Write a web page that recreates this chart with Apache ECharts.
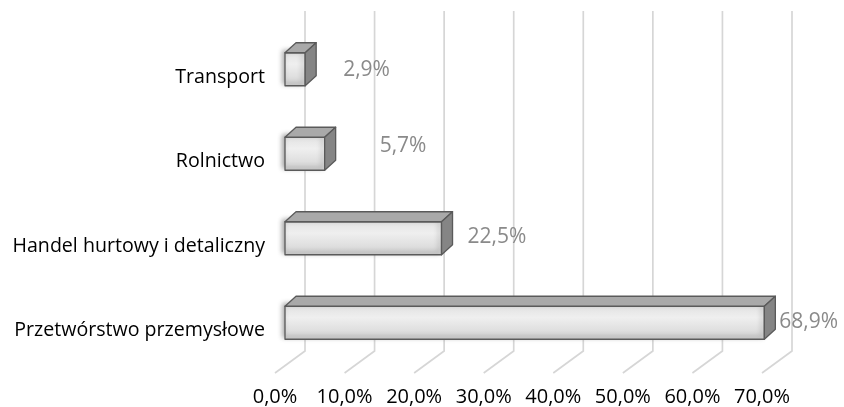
<!DOCTYPE html>
<html>
<head>
<meta charset="utf-8">
<script src="https://cdn.jsdelivr.net/npm/echarts@6/dist/echarts.min.js"></script>
<style>
  html, body { margin: 0; padding: 0; background: #fff; }
  #container { width: 844px; height: 407px; }
</style>
</head>
<body>
<div id="container"></div>
<script>
// data, listed bottom to top as the category axis draws them
var categories = ['Przetwórstwo przemysłowe', 'Handel hurtowy i detaliczny', 'Rolnictwo', 'Transport'];
var values = [68.9, 22.5, 5.7, 2.9];
var ticks = [0, 10, 20, 30, 40, 50, 60, 70];

// nudges for each value label (px), same order as values
var labelGap = [4, 15, 44, 27];
var labelLift = [0, 0, 7, -2];

var dom = document.getElementById('container');
var myChart = echarts.init(dom, null, { renderer: 'canvas' });

var font = '"Open Sans", sans-serif';
var depth = [30, -22];   // floor front -> back wall
var barShift = [10, -8]; // floor front -> bar front face
var barDepth = [11, -10];
var barH = 33;

function fmt(v) {
    return v.toFixed(1).replace('.', ',') + '%';
}

function renderGrid(params, api) {
    var p = api.coord([api.value(0), 0]);
    var yb = params.coordSys.y + params.coordSys.height;
    var x = p[0];
    return {
        type: 'polyline',
        shape: { points: [[x + depth[0], 11], [x + depth[0], yb + depth[1]], [x, yb]] },
        style: { stroke: '#d6d6d6', lineWidth: 1.7, fill: null }
    };
}

function renderBar(params, api) {
    var v = api.value(0);
    var c = api.value(1);
    var p0 = api.coord([0, c]);
    var p1 = api.coord([v, c]);
    var x0 = p0[0] + barShift[0];
    var x1 = p1[0] + barShift[0];
    var top = p0[1] + barShift[1] - barH / 2;
    var dx = barDepth[0], dy = barDepth[1];
    var border = { stroke: '#5a5a5a', lineWidth: 1.3, lineJoin: 'round' };
    return {
        type: 'group',
        children: [
            {
                type: 'rect',
                shape: { x: x0, y: top, width: x1 - x0, height: barH },
                style: Object.assign({
                    fill: new echarts.graphic.LinearGradient(0, 0, 0, 1, [
                        { offset: 0, color: '#e2e2e2' },
                        { offset: 0.35, color: '#efefef' },
                        { offset: 1, color: '#d3d3d3' }
                    ]),
                    shadowBlur: 5,
                    shadowOffsetX: -2,
                    shadowOffsetY: -2,
                    shadowColor: 'rgba(0,0,0,0.35)'
                }, border)
            },
            {
                type: 'polygon',
                shape: { points: [[x0, top], [x1, top], [x1 + dx, top + dy], [x0 + dx, top + dy]] },
                style: Object.assign({ fill: '#a9a9a9' }, border)
            },
            {
                type: 'polygon',
                shape: { points: [[x1, top], [x1 + dx, top + dy], [x1 + dx, top + barH + dy], [x1, top + barH]] },
                style: Object.assign({ fill: '#858585' }, border)
            },
            {
                type: 'text',
                style: {
                    x: x1 + dx + labelGap[params.dataIndex],
                    y: top + barH / 2 - 1 - labelLift[params.dataIndex],
                    text: fmt(v),
                    fill: '#8a8a8a',
                    font: '21px ' + font,
                    verticalAlign: 'middle',
                    align: 'left'
                }
            }
        ]
    };
}

var option = {
    backgroundColor: '#fff',
    animation: false,
    grid: { left: 275, right: 82, top: 35, bottom: 34 },
    xAxis: {
        type: 'value',
        min: 0,
        max: 70,
        interval: 10,
        axisLine: { show: false },
        axisTick: { show: false },
        splitLine: { show: false },
        axisLabel: {
            color: '#000',
            fontSize: 20,
            fontFamily: font,
            margin: 14,
            formatter: fmt
        }
    },
    yAxis: {
        type: 'category',
        data: categories,
        axisLine: { show: false },
        axisTick: { show: false },
        axisLabel: { color: '#000', fontSize: 19.6, fontFamily: font, margin: 10 }
    },
    series: [
        {
            type: 'custom',
            clip: false,
            silent: true,
            renderItem: renderGrid,
            data: ticks.map(function (t) { return [t]; }),
            z: 1
        },
        {
            type: 'custom',
            clip: false,
            renderItem: renderBar,
            encode: { x: 0, y: 1 },
            data: values.map(function (v, i) { return [v, i]; }),
            z: 2
        }
    ]
};

myChart.setOption(option);
window.addEventListener('resize', myChart.resize);
</script>
</body>
</html>
